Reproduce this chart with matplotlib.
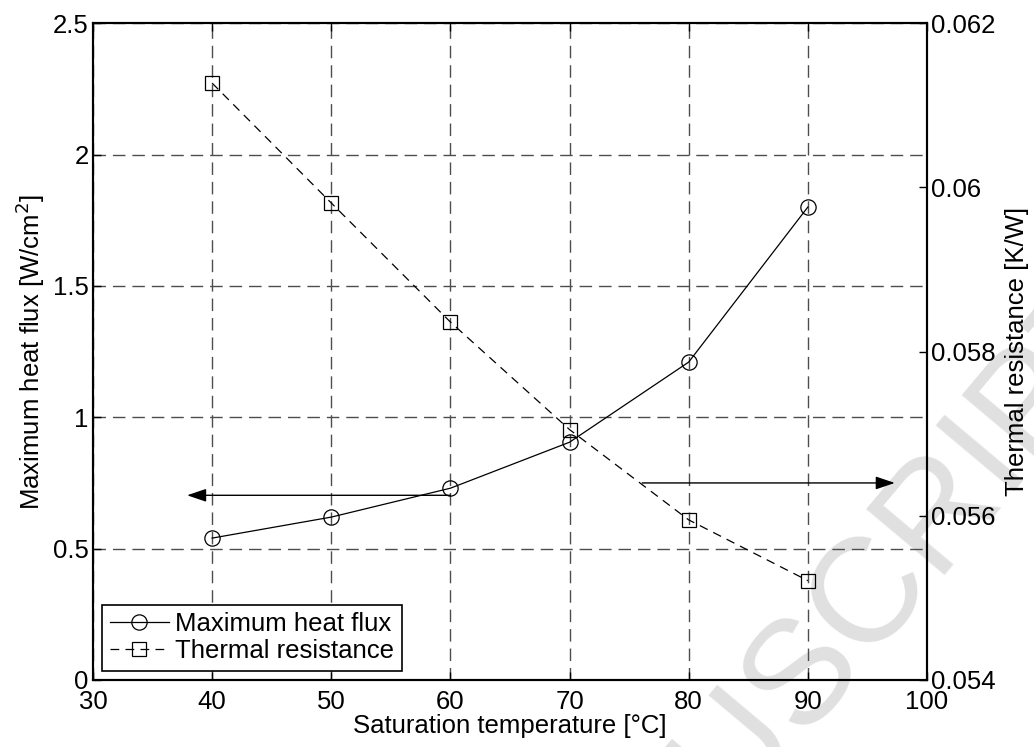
import matplotlib
matplotlib.use("Agg")
import matplotlib.pyplot as plt

# Données
temp_sat = [40, 50, 60, 70, 80, 90]
flux_max = [0.54, 0.62, 0.73, 0.905, 1.21, 1.80]
resistance = [0.06127, 0.05981, 0.05836, 0.05705, 0.05595, 0.05521]

x_ticks = [30, 40, 50, 60, 70, 80, 90, 100]
y1_ticks = [0, 0.5, 1, 1.5, 2, 2.5]
y2_ticks = [0.054, 0.056, 0.058, 0.06, 0.062]
y2_labels = ["0.054", "0.056", "0.058", "0.06", "0.062"]

plt.rcParams['font.family'] = ['Liberation Sans', 'DejaVu Sans']

fig = plt.figure(figsize=(10.34, 7.47), dpi=100)
ax1 = fig.add_axes([0.0899, 0.0897, 0.8066, 0.8793])
ax1.patch.set_visible(False)

# filigrane (derrière les axes)
fig.text(0.779, 0.108, "MANUSCRIPT", fontsize=107, color='#e0e0e0',
         rotation=50, rotation_mode='anchor', ha='center', va='center',
         zorder=-1)

l1, = ax1.plot(temp_sat, flux_max, '-', color='k', lw=0.9, marker='o',
               markersize=11, markerfacecolor='none', markeredgewidth=0.9,
               label="Maximum heat flux")
ax1.set_xlim(30, 100)
ax1.set_ylim(0, 2.5)
ax1.set_xticks(x_ticks)
ax1.set_yticks(y1_ticks)
ax1.set_yticklabels(["0", "0.5", "1", "1.5", "2", "2.5"])
ax1.grid(True, color='0.3', linestyle=(0, (9, 5)), lw=1)
ax1.tick_params(direction='in', labelsize=18.5, length=6, width=1, top=True,
                pad=3)
ax1.tick_params(axis='x', pad=7)
ax1.set_xlabel("Saturation temperature [°C]", fontsize=18.5, labelpad=0)
ax1.set_ylabel("Maximum heat flux [W/cm$^2$]", fontsize=18.5, labelpad=4)

ax2 = ax1.twinx()
l2, = ax2.plot(temp_sat, resistance, color='k', lw=0.9, linestyle=(0, (7, 5)),
               marker='s', markersize=10, markerfacecolor='none',
               markeredgewidth=0.9, label="Thermal resistance")
ax2.set_ylim(0.054, 0.062)
ax2.set_yticks(y2_ticks)
ax2.set_yticklabels(y2_labels)
ax2.tick_params(direction='in', labelsize=18.5, length=6, width=1, pad=3)
ax2.set_ylabel("Thermal resistance [K/W]", fontsize=18.5, labelpad=7)

for ax in (ax1, ax2):
    for s in ax.spines.values():
        s.set_linewidth(1.5)

# flèches indiquant les axes
style = '-|>,head_length=0.65,head_width=0.22'
ax1.annotate('', xy=(37.9, 0.703), xytext=(60, 0.703),
             arrowprops=dict(arrowstyle=style, color='k', lw=1,
                             mutation_scale=18, shrinkA=0, shrinkB=0))
ax1.annotate('', xy=(97.3, 0.75), xytext=(76.1, 0.75),
             arrowprops=dict(arrowstyle=style, color='k', lw=1,
                             mutation_scale=18, shrinkA=0, shrinkB=0))

leg = ax1.legend(handles=[l1, l2], loc='lower left', fontsize=18.5,
                 fancybox=False, edgecolor='k', framealpha=1,
                 borderaxespad=0.35, handlelength=2.3, handletextpad=0.25,
                 borderpad=0.3, labelspacing=0.12)
leg.get_frame().set_linewidth(1.2)

fig.savefig("out.png", dpi=100)
